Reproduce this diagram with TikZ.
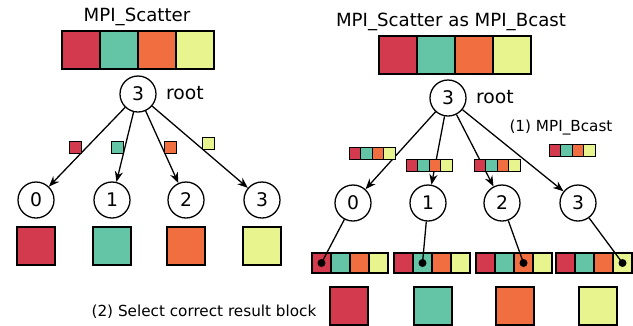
\documentclass[tikz,border=0pt]{standalone}
\usepackage{fontspec}
\setmainfont{DejaVu Sans}
\usetikzlibrary{arrows.meta}

\definecolor{c0}{RGB}{211,58,78}
\definecolor{c1}{RGB}{100,196,166}
\definecolor{c2}{RGB}{240,110,64}
\definecolor{c3}{RGB}{232,245,142}

\begin{document}
\begin{tikzpicture}[x=0.03cm,y=-0.03cm,
    proc/.style={draw,circle,line width=1.1pt,minimum size=1.08cm,inner sep=0pt,font=\fontsize{16}{18}\selectfont},
    big/.style={draw,line width=1pt,minimum size=1.14cm,inner sep=0pt},
    small/.style={draw,line width=0.7pt,minimum size=0.36cm,inner sep=0pt},
    mini/.style={draw,line width=0.7pt,minimum width=0.345cm,minimum height=0.36cm,inner sep=0pt},
    celda/.style={draw,line width=0.9pt,minimum width=0.57cm,minimum height=0.6cm,inner sep=0pt},
    flecha/.style={-{Stealth[length=9pt,width=7pt]},line width=1.1pt},
    titulo/.style={font=\fontsize{15.5}{18}\selectfont},
    texto/.style={font=\fontsize{13}{15}\selectfont}]

  \useasboundingbox (0,0) rectangle (633,325);

  % MPI_Scatter (izquierda)
  \node[titulo] (tit1) at (137,17) {MPI\_Scatter};
  \foreach \i in {0,...,3}
    \node[big,fill=c\i] (buf1\i) at (81+38*\i,50) {};

  \node[proc] (root1) at (138,94) {3};
  \node[anchor=west,font=\fontsize{16}{18}\selectfont] (lroot1) at (162,93) {root};

  \foreach \i/\x in {0/36,1/112,2/186,3/262} {
    \node[proc] (hijo1\i) at (\x,200) {\i};
    \node[big,fill=c\i] (res1\i) at (\x,246) {};
    \draw[flecha] (root1) -- (hijo1\i);
  }

  % bloques enviados
  \node[small,fill=c0] (env10) at (75,147) {};
  \node[small,fill=c1] (env11) at (117,147) {};
  \node[small,fill=c2] (env12) at (170,147) {};
  \node[small,fill=c3] (env13) at (208,143) {};

  \node[texto] (paso2) at (204,312) {(2) Select correct result block};

  % MPI_Scatter como MPI_Bcast (derecha)
  \node[titulo] (tit2) at (451,22) {MPI\_Scatter as MPI\_Bcast};
  \foreach \i in {0,...,3}
    \node[big,fill=c\i] (buf2\i) at (398+38*\i,55) {};

  \node[proc] (root2) at (448,98) {3};
  \node[anchor=west,font=\fontsize{16}{18}\selectfont] (lroot2) at (472,97) {root};
  \node[texto] (paso1) at (561,128) {(1) MPI\_Bcast};

  \foreach \i/\x/\b in {0/353/312,1/428/394,2/502/476,3/578/556} {
    \node[proc] (hijo2\i) at (\x,203) {\i};
    \draw[flecha] (root2) -- (hijo2\i);
    % copia completa en cada proceso
    \foreach \j in {0,...,3}
      \node[celda,fill=c\j] (cel\i\j) at (\b+9.5+19*\j,263) {};
  }

  % mensajes del broadcast
  \foreach \n/\x/\y in {a/354.75/153,b/411.75/165,c/479.75/165,d/554.75/150}
    \foreach \j in {0,...,3}
      \node[mini,fill=c\j] (msj\n\j) at (\x+11.5*\j,\y) {};

  % seleccion del bloque correcto
  \foreach \i in {0,...,3} {
    \fill (cel\i\i.center) circle (4);
    \draw[line width=1.1pt] (hijo2\i) -- (cel\i\i.center);
  }

  \foreach \i/\x in {0/349,1/433,2/515,3/598}
    \node[big,fill=c\i] (res2\i) at (\x,306) {};
\end{tikzpicture}
\end{document}
